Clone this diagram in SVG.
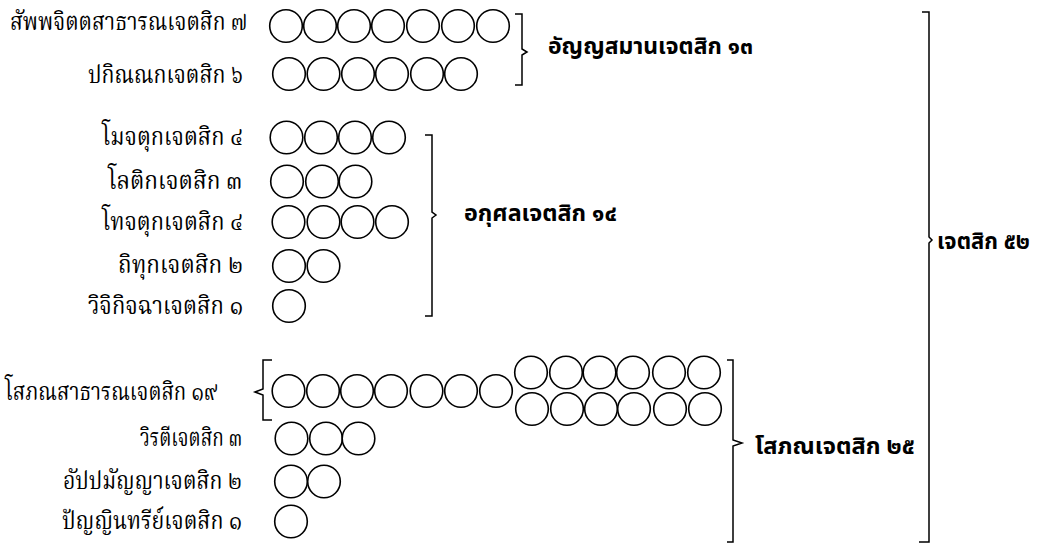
<svg xmlns="http://www.w3.org/2000/svg" width="1049" height="546" viewBox="0 0 1049 546">
<style>
.c{fill:#fff;stroke:#000;stroke-width:1.6}
.b{fill:none;stroke:#000;stroke-width:1.5;stroke-linejoin:miter}
.l{font-family:"Noto Serif Thai","Noto Sans Thai","Norasi","Garuda","DejaVu Sans",serif;font-size:25px;fill:#000}
.h{font-family:"Noto Sans Thai","Garuda","Loma","DejaVu Sans",sans-serif;font-size:23px;font-weight:bold;fill:#000}
</style>
<rect width="1049" height="546" fill="#fff"/>
<g id="connectors">
<path class="b" d="M515,14 H522 V49 L527,52 L522,55 V85 H515"/>
<path class="b" d="M425,135 H432 V212 L436,215 L432,218 V316 H425"/>
<path class="b" d="M272,360 H263 V389 L255,392 L263,395 V420 H272"/>
<path class="b" d="M727,360 H733 V440 L742,443 L733,446 V542 H727"/>
<path class="b" d="M922,12 H929 V237 L932,240 L929,243 V542 H919"/>
</g>
<g id="sabba">
<text class="l" x="10" y="30" textLength="237" lengthAdjust="spacingAndGlyphs">สัพพจิตตสาธารณเจตสิก ๗</text>
<circle class="c" cx="286" cy="26" r="16.3"/><circle class="c" cx="320" cy="26" r="16.3"/><circle class="c" cx="354" cy="26" r="16.3"/><circle class="c" cx="388" cy="26" r="16.3"/><circle class="c" cx="423" cy="26" r="16.3"/><circle class="c" cx="458" cy="26" r="16.3"/><circle class="c" cx="493" cy="26" r="16.3"/>
</g>
<g id="pakinnaka">
<text class="l" x="88" y="83" textLength="155" lengthAdjust="spacingAndGlyphs">ปกิณณกเจตสิก ๖</text>
<circle class="c" cx="289" cy="74" r="16.3"/><circle class="c" cx="323.5" cy="74" r="16.3"/><circle class="c" cx="358" cy="74" r="16.3"/><circle class="c" cx="392" cy="74" r="16.3"/><circle class="c" cx="427" cy="74" r="16.3"/><circle class="c" cx="461" cy="74" r="16.3"/>
</g>
<g id="annasamana">
<text class="h" x="548" y="54" textLength="205" lengthAdjust="spacingAndGlyphs">อัญญสมานเจตสิก ๑๓</text>
</g>
<g id="moca">
<text class="l" x="102" y="145" textLength="141" lengthAdjust="spacingAndGlyphs">โมจตุกเจตสิก ๔</text>
<circle class="c" cx="286.5" cy="137.5" r="16.3"/><circle class="c" cx="321" cy="137.5" r="16.3"/><circle class="c" cx="355" cy="137.5" r="16.3"/><circle class="c" cx="389" cy="137.5" r="16.3"/>
</g>
<g id="lobha">
<text class="l" x="108" y="189" textLength="134" lengthAdjust="spacingAndGlyphs">โลติกเจตสิก ๓</text>
<circle class="c" cx="287" cy="181.5" r="16.3"/><circle class="c" cx="322" cy="181.5" r="16.3"/><circle class="c" cx="355.5" cy="181.5" r="16.3"/>
</g>
<g id="dosa">
<text class="l" x="102" y="230" textLength="141" lengthAdjust="spacingAndGlyphs">โทจตุกเจตสิก ๔</text>
<circle class="c" cx="288.5" cy="222" r="16.3"/><circle class="c" cx="323.5" cy="222" r="16.3"/><circle class="c" cx="357.5" cy="222" r="16.3"/><circle class="c" cx="392" cy="222" r="16.3"/>
</g>
<g id="thina">
<text class="l" x="118" y="273" textLength="125" lengthAdjust="spacingAndGlyphs">ถิทุกเจตสิก ๒</text>
<circle class="c" cx="289" cy="266" r="16.3"/><circle class="c" cx="323.5" cy="266" r="16.3"/>
</g>
<g id="vicikiccha">
<text class="l" x="88" y="314" textLength="155" lengthAdjust="spacingAndGlyphs">วิจิกิจฉาเจตสิก ๑</text>
<circle class="c" cx="289" cy="306" r="16.3"/>
</g>
<g id="akusala">
<text class="h" x="464" y="221" textLength="153" lengthAdjust="spacingAndGlyphs">อกุศลเจตสิก ๑๔</text>
</g>
<g id="sobhanasadharana">
<text class="l" x="5" y="400" textLength="212" lengthAdjust="spacingAndGlyphs">โสภณสาธารณเจตสิก ๑๙</text>
<circle class="c" cx="288.5" cy="391" r="16.3"/><circle class="c" cx="323" cy="391" r="16.3"/><circle class="c" cx="357" cy="391" r="16.3"/><circle class="c" cx="391" cy="391" r="16.3"/><circle class="c" cx="426.5" cy="391" r="16.3"/><circle class="c" cx="461" cy="391" r="16.3"/><circle class="c" cx="496" cy="391" r="16.3"/>
<circle class="c" cx="531" cy="372.5" r="16.3"/><circle class="c" cx="566" cy="372.5" r="16.3"/><circle class="c" cx="599.5" cy="372.5" r="16.3"/><circle class="c" cx="633" cy="372.5" r="16.3"/><circle class="c" cx="669" cy="372.5" r="16.3"/><circle class="c" cx="704" cy="372.5" r="16.3"/>
<circle class="c" cx="532" cy="409" r="16.3"/><circle class="c" cx="567" cy="409" r="16.3"/><circle class="c" cx="601" cy="409" r="16.3"/><circle class="c" cx="634" cy="409" r="16.3"/><circle class="c" cx="670" cy="409" r="16.3"/><circle class="c" cx="705" cy="409" r="16.3"/>
</g>
<g id="virati">
<text class="l" x="140" y="446" textLength="102" lengthAdjust="spacingAndGlyphs">วิรตีเจตสิก ๓</text>
<circle class="c" cx="291.5" cy="438.5" r="16.3"/><circle class="c" cx="326" cy="438.5" r="16.3"/><circle class="c" cx="358.5" cy="438.5" r="16.3"/>
</g>
<g id="appamanna">
<text class="l" x="63" y="489" textLength="179" lengthAdjust="spacingAndGlyphs">อัปปมัญญาเจตสิก ๒</text>
<circle class="c" cx="291" cy="481.5" r="16.3"/><circle class="c" cx="324" cy="481.5" r="16.3"/>
</g>
<g id="panninthriya">
<text class="l" x="62" y="529" textLength="180" lengthAdjust="spacingAndGlyphs">ปัญญินทรีย์เจตสิก ๑</text>
<circle class="c" cx="291" cy="521.5" r="16.3"/>
</g>
<g id="sobhana">
<text class="h" x="755" y="454" textLength="160" lengthAdjust="spacingAndGlyphs">โสภณเจตสิก ๒๕</text>
</g>
<g id="cetasika">
<text class="h" x="937" y="249" textLength="93" lengthAdjust="spacingAndGlyphs">เจตสิก ๕๒</text>
</g>
</svg>
